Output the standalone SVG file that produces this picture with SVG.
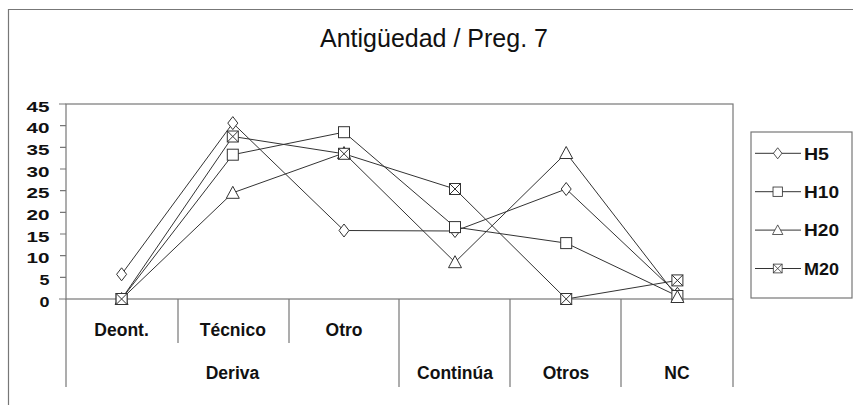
<svg xmlns="http://www.w3.org/2000/svg" xmlns:xlink="http://www.w3.org/1999/xlink" width="853" height="405" viewBox="0 0 853 405">
<style>
.frame{fill:none;stroke:#777;stroke-width:1.2}
.data{fill:none;stroke:#333;stroke-width:1}
.mk{fill:#fff;stroke:#333;stroke-width:1}
.title{font-family:"Liberation Sans",Arial,sans-serif;font-size:25px;fill:#111}
.tick{font-family:"Liberation Sans",Arial,sans-serif;font-size:15.5px;font-weight:bold;fill:#111;text-anchor:end}
.cat{font-family:"Liberation Sans",Arial,sans-serif;font-size:17.5px;font-weight:bold;fill:#111;text-anchor:middle}
.leg{font-family:"Liberation Sans",Arial,sans-serif;font-size:16px;font-weight:bold;fill:#111}
</style>
<defs>
<g id="mD"><path d="M0,-6.5 L5,0 L0,6.5 L-5,0 Z"/></g>
<g id="mS"><rect x="-5.5" y="-5.5" width="11" height="11"/></g>
<g id="mT"><path d="M0,-6.5 L6.5,5.5 L-6.5,5.5 Z"/></g>
<g id="mX"><rect x="-5.5" y="-5.5" width="11" height="11"/><path d="M-5.5,-5.5 L5.5,5.5 M5.5,-5.5 L-5.5,5.5"/></g>
</defs>
<rect width="853" height="405" fill="#fff"/>
<path class="frame" d="M8.5,405 V9.5 H853"/>
<text class="title" x="434" y="47" text-anchor="middle">Antigüedad / Preg. 7</text>

<g id="axes">
<rect class="frame" x="66" y="104" width="667" height="195"/>
<path class="frame" d="M59,104 H66 M60,125.7 H66 M60,147.3 H66 M60,169 H66 M60,190.7 H66 M60,212.3 H66 M60,234 H66 M60,255.7 H66 M60,277.3 H66 M59,299 H66"/>
<path class="frame" d="M66,299 V387 M399,299 V387 M510,299 V387 M621,299 V387 M733,299 V387 M178,299 V343 M289,299 V343"/>
<text class="tick" x="49.5" y="111.7" textLength="23" lengthAdjust="spacingAndGlyphs">45</text>
<text class="tick" x="49.5" y="133.4" textLength="23" lengthAdjust="spacingAndGlyphs">40</text>
<text class="tick" x="49.5" y="155" textLength="23" lengthAdjust="spacingAndGlyphs">35</text>
<text class="tick" x="49.5" y="176.7" textLength="23" lengthAdjust="spacingAndGlyphs">30</text>
<text class="tick" x="49.5" y="198.4" textLength="23" lengthAdjust="spacingAndGlyphs">25</text>
<text class="tick" x="49.5" y="220" textLength="23" lengthAdjust="spacingAndGlyphs">20</text>
<text class="tick" x="49.5" y="241.7" textLength="23" lengthAdjust="spacingAndGlyphs">15</text>
<text class="tick" x="49.5" y="263.4" textLength="23" lengthAdjust="spacingAndGlyphs">10</text>
<text class="tick" x="49.5" y="285" textLength="10" lengthAdjust="spacingAndGlyphs">5</text>
<text class="tick" x="49.5" y="306.7" textLength="10" lengthAdjust="spacingAndGlyphs">0</text>
<text class="cat" x="121.6" y="336">Deont.</text>
<text class="cat" x="232.8" y="336">Técnico</text>
<text class="cat" x="344" y="336">Otro</text>
<text class="cat" x="232.5" y="379">Deriva</text>
<text class="cat" x="455" y="379">Continúa</text>
<text class="cat" x="566" y="379">Otros</text>
<text class="cat" x="677" y="379">NC</text>
</g>

<g id="connectors">
<polyline class="data" points="121.6,274.3 232.8,123.1 344,230.5 455,231 566.2,189 677.4,293.8"/>
<polyline class="data" points="121.6,299 232.8,154.7 344,132.2 455,227.1 566.2,243.1 677.4,296"/>
<polyline class="data" points="121.6,299 232.8,192.8 344,153 455,262.2 566.2,153 677.4,297"/>
<polyline class="data" points="121.6,299 232.8,136.5 344,153.8 455,189 566.2,299 677.4,280.4"/>
</g>

<g id="series-H5" class="mk">
<use xlink:href="#mD" x="121.6" y="274.3"/>
<use xlink:href="#mD" x="232.8" y="123.1"/>
<use xlink:href="#mD" x="344" y="230.5"/>
<use xlink:href="#mD" x="455" y="231"/>
<use xlink:href="#mD" x="566.2" y="189"/>
<use xlink:href="#mD" x="677.4" y="293.8"/>
</g>
<g id="series-H10" class="mk">
<use xlink:href="#mS" x="121.6" y="299"/>
<use xlink:href="#mS" x="232.8" y="154.7"/>
<use xlink:href="#mS" x="344" y="132.2"/>
<use xlink:href="#mS" x="455" y="227.1"/>
<use xlink:href="#mS" x="566.2" y="243.1"/>
<use xlink:href="#mS" x="677.4" y="296"/>
</g>
<g id="series-H20" class="mk">
<use xlink:href="#mT" x="121.6" y="299"/>
<use xlink:href="#mT" x="232.8" y="192.8"/>
<use xlink:href="#mT" x="344" y="153"/>
<use xlink:href="#mT" x="455" y="262.2"/>
<use xlink:href="#mT" x="566.2" y="153"/>
<use xlink:href="#mT" x="677.4" y="297"/>
</g>
<g id="series-M20" class="mk">
<use xlink:href="#mX" x="121.6" y="299"/>
<use xlink:href="#mX" x="232.8" y="136.5"/>
<use xlink:href="#mX" x="344" y="153.8"/>
<use xlink:href="#mX" x="455" y="189"/>
<use xlink:href="#mX" x="566.2" y="299"/>
<use xlink:href="#mX" x="677.4" y="280.4"/>
</g>

<g id="legend">
<rect class="frame" x="751" y="132" width="101" height="166"/>
<path class="data" d="M755,153.3 H801 M755,191.7 H801 M755,230.1 H801 M755,268.5 H801"/>
<g class="mk">
<use xlink:href="#mD" transform="translate(777.7,153.3) scale(0.85)"/>
<use xlink:href="#mS" transform="translate(777.7,191.7) scale(0.85)"/>
<use xlink:href="#mT" transform="translate(777.7,230.1) scale(0.8)"/>
<use xlink:href="#mX" transform="translate(777.7,268.5) scale(0.8)"/>
</g>
<text class="leg" x="804" y="159.5" textLength="25" lengthAdjust="spacingAndGlyphs">H5</text>
<text class="leg" x="804" y="198" textLength="35" lengthAdjust="spacingAndGlyphs">H10</text>
<text class="leg" x="804" y="236.4" textLength="35" lengthAdjust="spacingAndGlyphs">H20</text>
<text class="leg" x="804" y="274.8" textLength="35" lengthAdjust="spacingAndGlyphs">M20</text>
</g>
</svg>
